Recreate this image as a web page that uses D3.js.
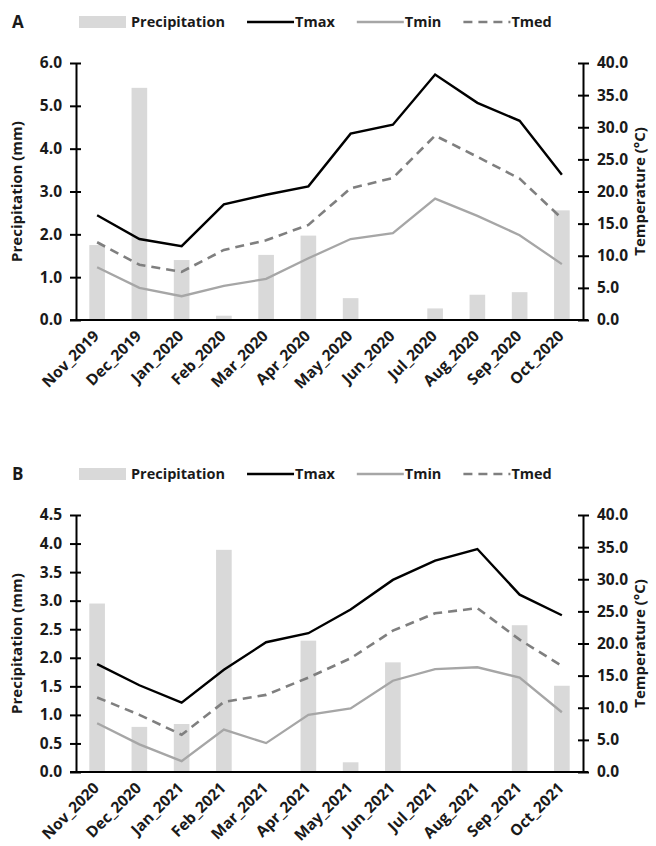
<!DOCTYPE html>
<html>
<head>
<meta charset="utf-8">
<script src="https://cdn.jsdelivr.net/npm/d3@7"></script>
<style>
  body { margin: 0; background: #fff; }
  svg text { font-family: "Open Sans", "Noto Sans", sans-serif; font-weight: 700; fill: #1a1a1a; }
</style>
</head>
<body>
<div id="chart"></div>
<script>
// Panel A: Nov 2019 - Oct 2020
var monthsA = ['Nov_2019', 'Dec_2019', 'Jan_2020', 'Feb_2020', 'Mar_2020', 'Apr_2020', 'May_2020', 'Jun_2020', 'Jul_2020', 'Aug_2020', 'Sep_2020', 'Oct_2020'];
var precipA = [1.75, 5.42, 1.40, 0.10, 1.52, 1.97, 0.51, 0, 0.27, 0.59, 0.65, 2.56];
var tmaxA = [16.3, 12.6, 11.5, 18.0, 19.5, 20.8, 29.0, 30.4, 38.2, 33.8, 31.0, 22.6];
var tminA = [8.2, 5.0, 3.7, 5.3, 6.4, 9.6, 12.6, 13.5, 18.9, 16.2, 13.2, 8.7];
var tmedA = [12.1, 8.6, 7.5, 10.9, 12.4, 14.8, 20.5, 22.1, 28.7, 25.4, 22.0, 15.8];
var precipTicksA = [0, 1, 2, 3, 4, 5, 6];

// Panel B: Nov 2020 - Oct 2021
var monthsB = ['Nov_2020', 'Dec_2020', 'Jan_2021', 'Feb_2021', 'Mar_2021', 'Apr_2021', 'May_2021', 'Jun_2021', 'Jul_2021', 'Aug_2021', 'Sep_2021', 'Oct_2021'];
var precipB = [2.95, 0.79, 0.84, 3.89, 0.01, 2.30, 0.17, 1.92, 0.01, 0, 2.57, 1.51];
var tmaxB = [16.8, 13.5, 10.8, 15.9, 20.2, 21.6, 25.3, 29.9, 32.9, 34.7, 27.6, 24.4];
var tminB = [7.6, 4.3, 1.7, 6.6, 4.5, 8.9, 9.9, 14.2, 16.0, 16.3, 14.7, 9.3];
var tmedB = [11.6, 8.9, 5.8, 10.9, 12.0, 14.7, 17.7, 22.0, 24.7, 25.5, 20.6, 16.5];
var precipTicksB = [0, 0.5, 1, 1.5, 2, 2.5, 3, 3.5, 4, 4.5];

var tempTicks = [0, 5, 10, 15, 20, 25, 30, 35, 40];

var W = 656, H = 846;
var svg = d3.select("#chart").append("svg").attr("width", W).attr("height", H);

var BAR = "#d9d9d9", TMAX = "#000000", TMIN = "#a6a6a6", TMED = "#7f7f7f";

function drawPanel(label, top, months, precip, tmax, tmin, tmed, pTicks) {
  var left = 76, right = 583, plotTop = top + 41, plotBottom = top + 298;
  var g = svg.append("g");

  var x = d3.scaleBand().domain(months).range([left, right]).paddingInner(0.63).paddingOuter(0.315);
  var yP = d3.scaleLinear().domain([0, d3.max(pTicks)]).range([plotBottom, plotTop]);
  var yT = d3.scaleLinear().domain([0, 40]).range([plotBottom, plotTop]);

  // bars
  g.selectAll("rect.bar").data(precip).enter().append("rect")
    .attr("class", "bar")
    .attr("x", function(d, i) { return x(months[i]); })
    .attr("width", x.bandwidth())
    .attr("y", function(d) { return yP(d); })
    .attr("height", function(d) { return plotBottom - yP(d); })
    .attr("fill", BAR);

  var cx = function(d, i) { return x(months[i]) + x.bandwidth() / 2; };
  var line = d3.line().x(cx).y(function(d) { return yT(d); });

  g.append("path").datum(tmin).attr("d", line).attr("fill", "none")
    .attr("stroke", TMIN).attr("stroke-width", 2.3);
  g.append("path").datum(tmed).attr("d", line).attr("fill", "none")
    .attr("stroke", TMED).attr("stroke-width", 2.6).attr("stroke-dasharray", "9,6");
  g.append("path").datum(tmax).attr("d", line).attr("fill", "none")
    .attr("stroke", TMAX).attr("stroke-width", 2.4);

  // left axis
  var ax = d3.axisLeft(yP).tickValues(pTicks).tickFormat(d3.format(".1f")).tickSizeInner(6).tickSizeOuter(0).tickPadding(8);
  var gl = g.append("g").attr("transform", "translate(" + left + ",0)").call(ax);
  gl.select(".domain").attr("stroke", "#000").attr("stroke-width", 2);
  gl.selectAll(".tick line").attr("stroke", "#000").attr("stroke-width", 2).attr("x2", -6).attr("x1", 5);
  gl.selectAll(".tick text").style("font-size", "15.5px").attr("fill", "#1a1a1a");

  // right axis
  var ar = d3.axisRight(yT).tickValues(tempTicks).tickFormat(d3.format(".1f")).tickSizeInner(6).tickSizeOuter(0).tickPadding(8);
  var gr = g.append("g").attr("transform", "translate(" + right + ",0)").call(ar);
  gr.select(".domain").attr("stroke", "#000").attr("stroke-width", 2);
  gr.selectAll(".tick line").attr("stroke", "#000").attr("stroke-width", 2).attr("x2", 6).attr("x1", -5);
  gr.selectAll(".tick text").style("font-size", "15.5px").attr("fill", "#1a1a1a");

  // bottom axis
  var ab = d3.axisBottom(x).tickSize(0).tickPadding(0);
  var gb = g.append("g").attr("transform", "translate(0," + plotBottom + ")").call(ab);
  gb.select(".domain").attr("stroke", "#000").attr("stroke-width", 2).attr("d", "M" + (left - 6) + ",0H" + (right + 5));
  gb.selectAll(".tick text")
    .style("font-size", "15.5px")
    .attr("text-anchor", "end")
    .attr("dy", 0)
    .attr("y", 0)
    .attr("transform", "translate(3,17) rotate(-45)");

  // axis titles
  g.append("text").attr("transform", "translate(22," + ((plotTop + plotBottom) / 2) + ") rotate(-90)")
    .attr("text-anchor", "middle").style("font-size", "15px").text("Precipitation (mm)");
  g.append("text").attr("transform", "translate(645," + ((plotTop + plotBottom) / 2) + ") rotate(-90)")
    .attr("text-anchor", "middle").style("font-size", "15px").text("Temperature (°C)");

  // panel label
  g.append("text").attr("x", 12).attr("y", top + 6).style("font-size", "17px").text(label);

  // legend
  var ly = top;
  var lx = 79;
  var items = [
    {name: "Precipitation", type: "bar"},
    {name: "Tmax", type: "line", color: TMAX, dash: null, w: 2.4},
    {name: "Tmin", type: "line", color: TMIN, dash: null, w: 2.3},
    {name: "Tmed", type: "line", color: TMED, dash: "9,6", w: 2.6}
  ];
  items.forEach(function(it) {
    if (it.type == "bar") {
      g.append("rect").attr("x", lx).attr("y", ly - 6).attr("width", 47).attr("height", 12).attr("fill", BAR);
    } else {
      g.append("line").attr("x1", lx).attr("x2", lx + 47).attr("y1", ly).attr("y2", ly)
        .attr("stroke", it.color).attr("stroke-width", it.w).attr("stroke-dasharray", it.dash);
    }
    var t = g.append("text").attr("x", lx + (it.type == "bar" ? 52 : 48)).attr("y", ly).attr("dy", "0.35em")
      .style("font-size", "14.5px").text(it.name);
    lx = lx + (it.type == "bar" ? 52 : 48) + t.node().getComputedTextLength() + 22;
  });
}

drawPanel("A", 22, monthsA, precipA, tmaxA, tminA, tmedA, precipTicksA);
drawPanel("B", 474, monthsB, precipB, tmaxB, tminB, tmedB, precipTicksB);
</script>
</body>
</html>
